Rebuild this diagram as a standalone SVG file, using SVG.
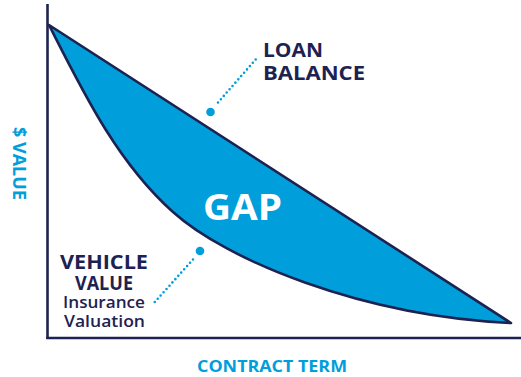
<svg xmlns="http://www.w3.org/2000/svg" width="521" height="377" viewBox="0 0 521 377">
<style>
.navy{fill:#1d2251}
.blue{fill:#009edb}
.b{font-family:"Open Sans","Liberation Sans",sans-serif;font-weight:bold}
.r{font-family:"Open Sans","Liberation Sans",sans-serif;font-weight:600}
.dots{fill:none;stroke:#009edb;stroke-width:2.6;stroke-linecap:round;stroke-dasharray:0 4.4}
.axis{fill:none;stroke:#1d2251;stroke-width:2.6}
</style>
<rect width="521" height="377" fill="#fff"/>
<g id="gap-area">
<path d="M49,25 L511,323 C360,316 225,259 173,212 C117,162 83,92 49,25 Z" fill="#009edb" stroke="#1d2251" stroke-width="2.6" stroke-linejoin="round"/>
<text class="b" x="242.5" y="220" font-size="35" fill="#fff" text-anchor="middle" textLength="79" lengthAdjust="spacingAndGlyphs">GAP</text>
</g>
<g id="axes">
<line class="axis" x1="47.5" y1="4" x2="47.5" y2="339"/>
<line class="axis" x1="46.2" y1="338" x2="521" y2="338"/>
</g>
<g id="connectors">
<circle class="blue" cx="210.5" cy="112" r="4.3"/>
<line class="dots" x1="218" y1="102.5" x2="257" y2="58"/>
<circle class="blue" cx="200" cy="251" r="4.3"/>
<line class="dots" x1="193" y1="259.5" x2="153" y2="304"/>
</g>
<g id="loan-balance">
<text class="b navy" x="263" y="57" font-size="19" textLength="60" lengthAdjust="spacingAndGlyphs">LOAN</text>
<text class="b navy" x="263" y="80" font-size="19" textLength="102" lengthAdjust="spacingAndGlyphs">BALANCE</text>
</g>
<g id="vehicle-value">
<text class="b navy" x="104" y="269" font-size="19" text-anchor="middle" textLength="88" lengthAdjust="spacingAndGlyphs">VEHICLE</text>
<text class="b navy" x="104" y="290" font-size="19" text-anchor="middle" textLength="58" lengthAdjust="spacingAndGlyphs">VALUE</text>
<text class="r navy" x="63" y="308" font-size="15.5" textLength="82" lengthAdjust="spacingAndGlyphs">Insurance</text>
<text class="r navy" x="64" y="327" font-size="15.5" textLength="81" lengthAdjust="spacingAndGlyphs">Valuation</text>
</g>
<g id="y-label">
<text class="b blue" transform="translate(13,127) rotate(90)" font-size="17" textLength="73" lengthAdjust="spacingAndGlyphs">$ VALUE</text>
</g>
<g id="x-label">
<text class="b blue" x="197" y="372" font-size="16.5" textLength="150" lengthAdjust="spacingAndGlyphs">CONTRACT TERM</text>
</g>
</svg>
